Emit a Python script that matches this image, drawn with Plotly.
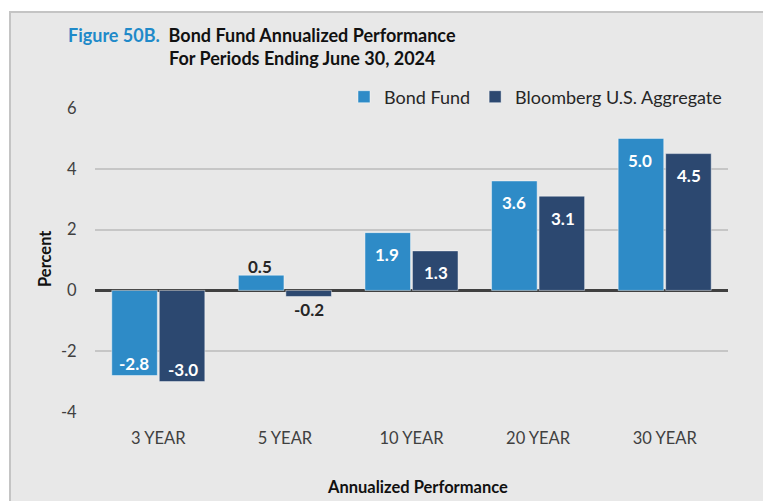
import plotly.graph_objects as go

categories = ["3 YEAR", "5 YEAR", "10 YEAR", "20 YEAR", "30 YEAR"]
bond_fund = [-2.8, 0.5, 1.9, 3.6, 5.0]
bloomberg = [-3.0, -0.2, 1.3, 3.1, 4.5]
series_names = ["Bond Fund", "Bloomberg U.S. Aggregate"]
y_ticks = [-4, -2, 0, 2, 4, 6]
y_tick_text = ["-4", "-2", "0", "2", "4", "6"]

FONT = "Lato"
BLUE = "#2e8bc7"
NAVY = "#2c4870"
BG = "#e8e8e8"

L, R, T, B = 95, 728, 108, 412
W, H = R - L, B - T
def px(x):
    return (x - L) / W
def py(y):
    return (B - y) / H

fig = go.Figure()
for name, vals, col in [(series_names[0], bond_fund, BLUE), (series_names[1], bloomberg, NAVY)]:
    fig.add_trace(go.Bar(
        x=categories, y=vals, name=name,
        marker=dict(color=col, line=dict(color="rgba(255,255,255,0.45)", width=1)),
        hoverinfo="skip",
    ))

# value labels
annotations = []
for vals, shift in [(bond_fund, -24.5), (bloomberg, 24.5)]:
    for c, v in zip(categories, vals):
        big = abs(v) >= 1
        if big:
            ys = -22 if v > 0 else 12
            color = "white"
        else:
            ys = 9 if v > 0 else -13
            color = "#262626"
        annotations.append(dict(
            x=c, y=v, xref="x", yref="y", text=f"<b>{v:.1f}</b>",
            showarrow=False, xshift=shift, yshift=ys, yanchor="middle",
            font=dict(family=FONT, size=17, color=color),
        ))

annotations += [
    dict(x=px(66), y=py(35), xref="paper", yref="paper", xanchor="left", yanchor="middle",
         text="<b><span style='color:#1f8ac9'>Figure 50B.</span>  Bond Fund Annualized Performance</b>",
         showarrow=False, font=dict(family=FONT, size=18, color="#111111")),
    dict(x=px(167), y=py(58), xref="paper", yref="paper", xanchor="left", yanchor="middle",
         text="<b>For Periods Ending June 30, 2024</b>",
         showarrow=False, font=dict(family=FONT, size=18, color="#111111")),
    dict(x=px(45), y=py(259), xref="paper", yref="paper", xanchor="center", yanchor="middle",
         text="<b>Percent</b>", textangle=-90,
         showarrow=False, font=dict(family=FONT, size=16.5, color="#111111")),
    dict(x=px(417), y=py(487), xref="paper", yref="paper", xanchor="center", yanchor="middle",
         text="<b>Annualized Performance</b>",
         showarrow=False, font=dict(family=FONT, size=16.5, color="#111111")),
]

fig.update_layout(
    width=763, height=501,
    margin=dict(l=L, r=763 - R, t=T, b=501 - B, pad=0, autoexpand=False),
    paper_bgcolor="white", plot_bgcolor="rgba(0,0,0,0)",
    barmode="group", bargap=0.25, bargroupgap=0.04,
    font=dict(family=FONT, size=16.5, color="#404040"),
    showlegend=True,
    legend=dict(orientation="h", x=px(727), xanchor="right", y=py(97), yanchor="middle",
                bgcolor="rgba(0,0,0,0)", font=dict(family=FONT, size=18, color="#262626"),
                itemwidth=30, tracegroupgap=0),
    annotations=annotations,
    shapes=[dict(type="rect", xref="paper", yref="paper", layer="below",
                 x0=px(10), x1=px(780), y0=py(520), y1=py(12),
                 fillcolor=BG, line=dict(color="#c4c4c4", width=2))],
)
fig.update_yaxes(range=[-4, 6], tickvals=y_ticks, ticktext=y_tick_text,
                 showgrid=True, gridcolor="#c6c6c6", gridwidth=1.5,
                 zeroline=True, zerolinecolor="#404040", zerolinewidth=2.5,
                 ticks="outside", ticklen=14, tickcolor="rgba(0,0,0,0)",
                 tickfont=dict(family=FONT, size=16.5, color="#404040"),
                 showline=False, fixedrange=True)
fig.update_xaxes(ticks="outside", ticklen=11, tickcolor="rgba(0,0,0,0)", showline=False,
                 tickfont=dict(family=FONT, size=16.5, color="#404040"), fixedrange=True)

fig.write_html("out.html", config={"displayModeBar": False},
               post_script="document.body.style.margin='0';document.body.style.overflow='hidden';")
